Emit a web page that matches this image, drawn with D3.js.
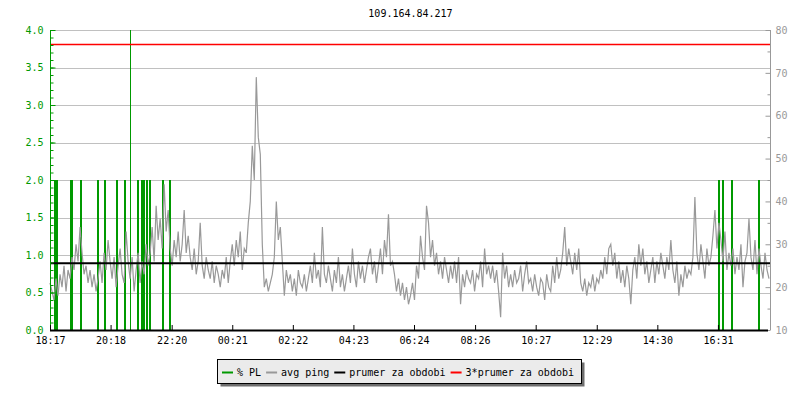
<!DOCTYPE html>
<html><head><meta charset="utf-8">
<script src="https://cdn.jsdelivr.net/npm/d3@7"></script>
<style>
body{margin:0;background:#fff;}
text{font-family:"DejaVu Sans Mono",monospace;font-size:10px;}
</style></head>
<body><svg id="c" width="800" height="400"></svg>
<script>
const title = "109.164.84.217";
const startTime = "18:17";
const pingStepMin = 4;
const pingValues = [
21,19,17,22,18,23,20,25,19,24,
22,27,24,30,26,34,28,23,25,21,
24,20,23,19,22,26,21,28,24,31,
26,22,27,20,25,29,23,21,33,26,
22,27,19,24,28,21,26,23,30,25,
28,34,26,39,31,36,29,44,33,38,
29,25,31,27,33,26,30,38,28,32,
27,24,29,23,26,35,25,22,27,24,
22,26,21,25,23,20,24,22,27,21,
26,30,25,31,27,33,24,29,28,35,
40,53,45,69,55,51,30,20,22,19,
21,23,27,40,31,34,26,18,24,21,
23,19,22,18,24,21,20,23,19,22,
25,21,28,22,24,20,34,23,21,25,
22,19,24,21,27,20,23,19,22,25,
21,29,23,20,26,22,25,21,24,27,
29,23,26,21,25,29,23,31,27,37,
25,26,23,19,22,18,21,17,20,16,
18,21,17,25,22,32,27,24,39,35,
27,31,25,28,23,26,22,27,24,21,
25,22,26,21,27,16,23,20,24,22,
21,24,19,23,22,26,20,29,23,25,
22,25,21,24,19,13,28,22,25,20,
23,20,24,21,22,25,19,23,26,21,
22,19,23,20,18,22,21,17,23,20,
19,25,21,27,22,24,28,34,25,29,
26,23,28,24,29,21,19,22,18,21,
20,23,19,22,21,24,22,27,23,29,
30,25,28,22,26,21,24,20,25,22,
16,24,27,22,30,25,29,23,26,21,
24,27,21,26,23,28,25,22,27,24,
31,24,21,26,18,23,20,25,22,24,
23,27,41,28,24,30,26,22,29,25,
27,32,38,29,35,31,26,33,24,28,
25,29,23,27,24,30,20,26,28,36,
27,24,31,23,29,25,22,28,24,22
];
const plTimes = ["18:26","18:30","18:58","19:00","19:18","19:52","20:06","20:30","20:46","20:56","21:12","21:20","21:25","21:31","21:37","22:02","22:16","16:33","16:41","17:00","17:54"];
const plValues = [2,2,2,2,2,2,2,2,2,4,2,2,2,2,2,2,2,2,2,2,2];
const avgPing = 25.55;
const xTickLabels = ["18:17","20:18","22:20","00:21","02:22","04:23","06:24","08:26","10:27","12:29","14:30","16:31"];
const leftTicks = [0,0.5,1,1.5,2,2.5,3,3.5,4];
const rightTicks = [10,20,30,40,50,60,70,80];
const legendLabels = ["% PL","avg ping","prumer za obdobi","3*prumer za obdobi"];
const legendColors = ["#009900","#999999","#000000","#ff0000"];

const L=50, R=770, T=30, B=330;
const toMin = s => { const [h,m]=s.split(":").map(Number); const [h0,m0]=startTime.split(":").map(Number); return ((h*60+m)-(h0*60+m0)+1440)%1440; };
const svg = d3.select("#c");
const x = d3.scaleLinear().domain([0,1440]).range([L,R+1]);
const yL = d3.scaleLinear().domain([0,4]).range([B,T]);
const yR = d3.scaleLinear().domain([10,80]).range([B,T]);
const green="#009900", gray="#999999";

svg.append("text").attr("x",(L+R)/2+0.5).attr("y",17).attr("text-anchor","middle").attr("fill","#000").text(title);

svg.append("g").selectAll("line").data(leftTicks.filter(d=>d>0)).join("line")
  .attr("x1",L).attr("x2",R).attr("y1",d=>Math.round(yL(d))+0.5).attr("y2",d=>Math.round(yL(d))+0.5)
  .attr("stroke","#c0c0c0").attr("stroke-width",1);

svg.append("g").selectAll("line").data(plTimes.map((t,i)=>({t:toMin(t),v:plValues[i]}))).join("line")
  .attr("x1",d=>Math.round(x(d.t))).attr("x2",d=>Math.round(x(d.t)))
  .attr("y1",B).attr("y2",d=>yL(d.v))
  .attr("stroke",green).attr("stroke-width",d=>d.v>2?1:2).attr("shape-rendering","crispEdges");

const line = d3.line().x((d,i)=>x(i*pingStepMin)).y(d=>yR(d));
svg.append("path").datum(pingValues).attr("d",line).attr("fill","none").attr("stroke",gray).attr("stroke-width",1.2);

svg.append("line").attr("x1",L).attr("x2",R).attr("y1",yR(avgPing)).attr("y2",yR(avgPing)).attr("stroke","#000").attr("stroke-width",2);
svg.append("line").attr("x1",L).attr("x2",R).attr("y1",Math.round(yR(avgPing*3))+0.5).attr("y2",Math.round(yR(avgPing*3))+0.5).attr("stroke","#ff0000").attr("stroke-width",1.3);

const styleAxis = (g,col)=>{g.select(".domain").remove(); g.selectAll(".tick line").attr("stroke",col); g.selectAll(".tick text").attr("fill",col).style("font-size","10px").style("font-family","DejaVu Sans Mono");};

const gl = svg.append("g").attr("transform",`translate(${L+0.5},0)`);
gl.call(d3.axisLeft(yL).tickValues(d3.range(0,41).map(d=>d/10)).tickSize(-3).tickFormat(""));
styleAxis(gl,green);
const gl2 = svg.append("g").attr("transform",`translate(${L+0.5},0)`);
gl2.call(d3.axisLeft(yL).tickValues(leftTicks).tickSize(-5).tickPadding(7).tickFormat(d3.format(".1f")));
styleAxis(gl2,green);
svg.append("line").attr("x1",L+0.5).attr("x2",L+0.5).attr("y1",T).attr("y2",B).attr("stroke",green);

const gr = svg.append("g").attr("transform",`translate(${R+0.5},0)`);
gr.call(d3.axisRight(yR).tickValues(d3.range(15,80,10)).tickSize(-3).tickFormat(""));
styleAxis(gr,gray);
const gr2 = svg.append("g").attr("transform",`translate(${R+0.5},0)`);
gr2.call(d3.axisRight(yR).tickValues(rightTicks).tickSize(-5).tickPadding(5));
styleAxis(gr2,gray);
svg.append("line").attr("x1",R+0.5).attr("x2",R+0.5).attr("y1",T).attr("y2",B).attr("stroke",gray);

const gb = svg.append("g").attr("transform",`translate(0,${B})`);
gb.call(d3.axisBottom(x).tickValues(xTickLabels.map(toMin)).tickSize(-5).tickPadding(7).tickFormat((d,i)=>xTickLabels[i]));
styleAxis(gb,"#000");
svg.append("line").attr("x1",L).attr("x2",R-2).attr("y1",B+0.5).attr("y2",B+0.5).attr("stroke","#000").attr("stroke-width",2);

const lx=217.5, ly=359.5, lw=364, lh=24;
svg.append("rect").attr("x",lx+3).attr("y",ly+3).attr("width",lw).attr("height",lh).attr("fill","#6e6e6e");
svg.append("rect").attr("x",lx).attr("y",ly).attr("width",lw).attr("height",lh).attr("fill","#ebebeb").attr("stroke","#000");
let cx = lx+4.5;
legendLabels.forEach((lab,i)=>{
  svg.append("line").attr("x1",cx).attr("x2",cx+11).attr("y1",372.5).attr("y2",372.5).attr("stroke",legendColors[i]).attr("stroke-width",2);
  const t = svg.append("text").attr("x",cx+15).attr("y",376).attr("fill","#000").text(lab);
  cx += 15 + t.node().getComputedTextLength() + 5;
});
</script></body></html>
